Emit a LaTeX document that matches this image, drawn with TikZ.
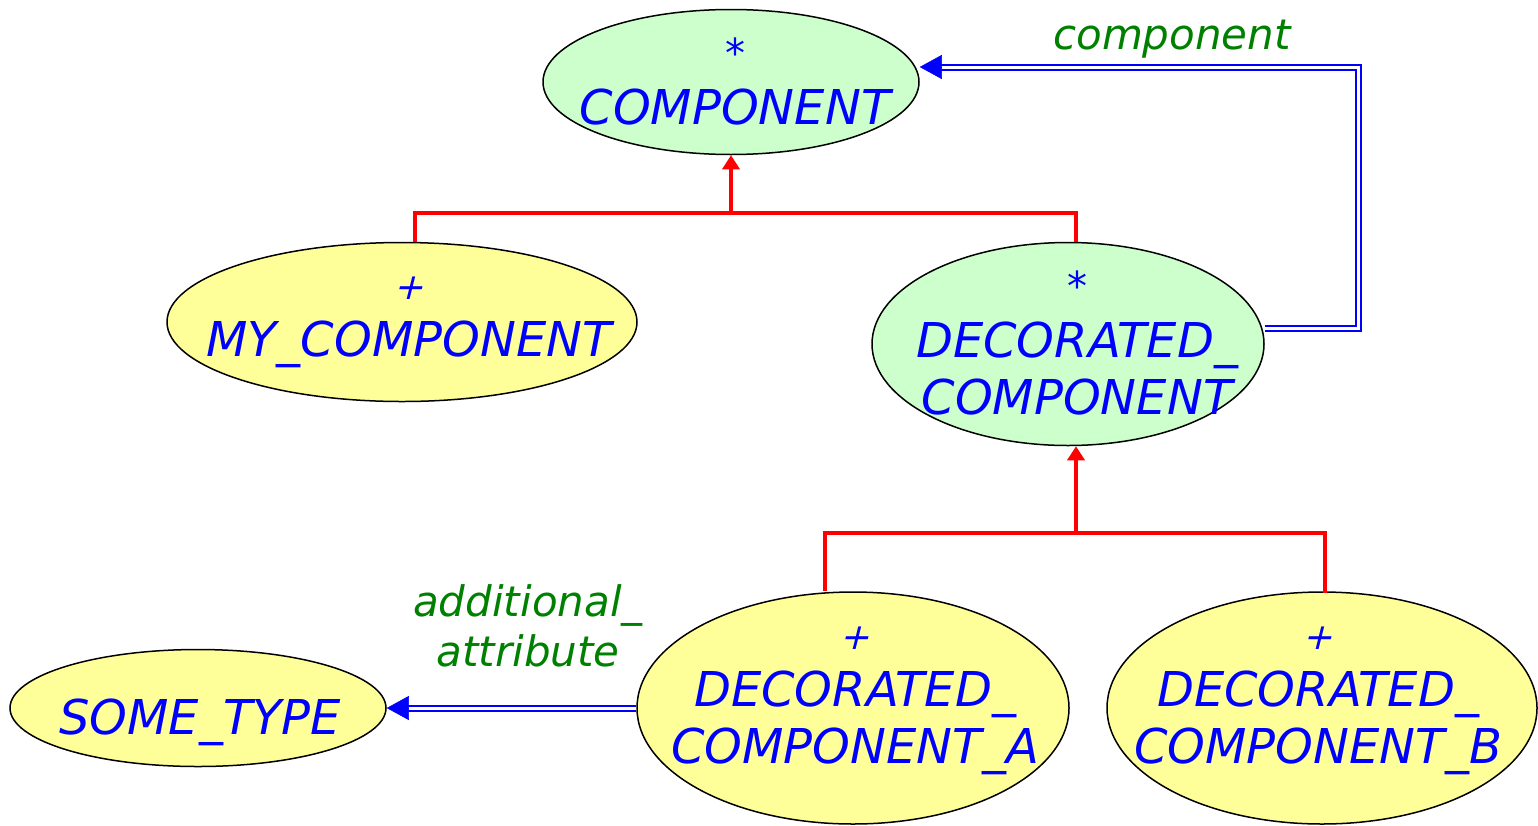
\documentclass[tikz,border=0pt]{standalone}
\usepackage{fontspec}
\setmainfont{DejaVu Sans}
\newfontfamily\symslant[FakeSlant=0.25]{DejaVu Sans}
\usetikzlibrary{shapes.geometric,arrows.meta,calc}
\definecolor{clsgreen}{HTML}{CCFFCC}
\definecolor{clsyellow}{HTML}{FFFF99}
\definecolor{lblgreen}{HTML}{008000}
% small slanted marks for effective (+) and deferred (*) classes
\newcommand{\effmark}{{\symslant\fontsize{36}{57}\selectfont +}}
\newcommand{\defmark}{{\fontsize{40}{57}\selectfont *}}
\begin{document}
\begin{tikzpicture}[x=1pt,y=-1pt,
  cls/.style={ellipse,draw=black,line width=1.5pt,inner sep=0pt},
  deferred/.style={cls,fill=clsgreen},
  effective/.style={cls,fill=clsyellow},
  clstext/.style={text=blue,font=\fontsize{48}{57}\selectfont\itshape,align=center,inner sep=0pt},
  lbl/.style={text=lblgreen,font=\fontsize{42}{50}\selectfont\itshape,align=center,inner sep=0pt},
  inherit/.style={draw=red,line width=4pt},
  inherittip/.style={draw=red,line width=4pt,-{Triangle[length=14pt,width=17pt]}},
  client/.style={draw=blue,line width=2pt,double=white,double distance=3pt},
  clienttip/.style={draw=blue,line width=0.5pt,-{Triangle[length=22pt,width=24pt]}}]
\useasboundingbox (0,0) rectangle (1538,825);

% classes
\node[deferred,minimum width=376pt,minimum height=145pt] (comp) at (731,82) {};
\node[effective,minimum width=470pt,minimum height=159pt] (mycomp) at (402,322) {};
\node[deferred,minimum width=392pt,minimum height=203pt] (dc) at (1068,344) {};
\node[effective,minimum width=376pt,minimum height=117pt] (st) at (198,708) {};
\node[effective,minimum width=432pt,minimum height=232pt] (dca) at (853,708) {};
\node[effective,minimum width=430pt,minimum height=232pt] (dcb) at (1322,708) {};

\node[clstext] (compt) at (735,81) {\defmark\\COMPONENT};
\node[clstext] (mycompt) at (409,322) {\effmark\\MY\_COMPONENT};
\node[clstext] (dct) at (1077,343) {\defmark\\DECORATED\_\\COMPONENT};
\node[clstext] (stt) at (200,722) {SOME\_TYPE};
\node[clstext] (dcat) at (855,701) {\effmark\\DECORATED\_\\COMPONENT\_A};
\node[clstext] (dcbt) at (1318,701) {\effmark\\DECORATED\_\\COMPONENT\_B};

% inheritance from COMPONENT
\coordinate (bar1) at (731,213);
\draw[inherit] ($(mycomp.north)+(13,0)$) |- (bar1) -| ($(dc.north)+(8,0)$);
\draw[inherittip] (bar1) -- (comp.south);

% inheritance from DECORATED_COMPONENT
\coordinate (bar2) at (1076,533);
\draw[inherit] ($(dca.north)+(-28,0)$) |- (bar2) -| ($(dcb.north)+(3,2)$);
\draw[inherittip] (bar2) -- (dc.south -| bar2);

% client relations
\coordinate (corner) at (1358,67);
\draw[client,shorten >=20pt] ($(dc.east)+(0,-16)$) -| (corner) -- (comp.east |- corner);
\draw[clienttip] ($(comp.east |- corner)+(21,0)$) -- (comp.east |- corner);
\node[lbl] (complbl) at (1172,39) {component};

\draw[client,shorten >=20pt] (dca.west) -- (st.east);
\draw[clienttip] ($(st.east)+(21,0)$) -- (st.east);
\node[lbl] (addlbl) at (528,626) {additional\_\\attribute};
\end{tikzpicture}
\end{document}
